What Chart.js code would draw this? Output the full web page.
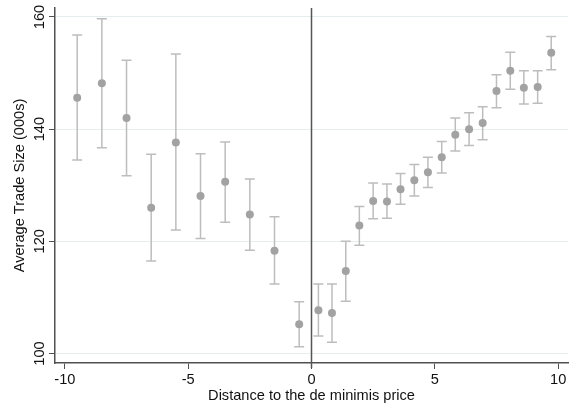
<!DOCTYPE html>
<html>
<head>
<meta charset="utf-8">
<script src="https://cdn.jsdelivr.net/npm/chart.js@4"></script>
<style>
  html, body { margin: 0; padding: 0; background: #fff; }
  #wrap { width: 573px; height: 407px; }
</style>
</head>
<body>
<div id="wrap"><canvas id="chart" width="573" height="407"></canvas></div>
<script>
// bin centres (distance to the de minimis price)
const binX = [-9.5, -8.5, -7.5, -6.5, -5.5, -4.5, -3.5, -2.5, -1.5, -0.5,
    0.28, 0.83, 1.39, 1.94, 2.5, 3.06, 3.61, 4.17, 4.72, 5.28, 5.83, 6.39, 6.94, 7.5, 8.06, 8.61, 9.17, 9.72];
// average trade size (000s)
const avgSize = [145.6, 148.2, 142.0, 126.0, 137.6, 128.1, 130.6, 124.8, 118.3, 105.2,
    107.7, 107.2, 114.7, 122.8, 127.2, 127.1, 129.3, 130.9, 132.3, 135.0, 139.0, 140.0, 141.1, 146.8, 150.4, 147.4, 147.5, 153.6];
// confidence interval bounds
const ciHigh = [156.8, 159.7, 152.3, 135.5, 153.4, 135.6, 137.7, 131.1, 124.4, 109.2,
    112.4, 112.4, 120.0, 126.2, 130.4, 130.2, 132.1, 133.7, 135.0, 137.8, 142.0, 142.9, 144.0, 149.7, 153.7, 150.4, 150.4, 156.5];
const ciLow = [134.5, 136.7, 131.7, 116.5, 122.0, 120.5, 123.4, 118.4, 112.4, 101.2,
    103.1, 102.0, 109.3, 119.3, 124.0, 124.1, 126.6, 128.1, 129.6, 132.2, 136.1, 137.1, 138.1, 143.8, 147.1, 144.5, 144.6, 150.6];

const xTicks = [-10, -5, 0, 5, 10];
const yTicks = [100, 120, 140, 160];
const yTitle = 'Average Trade Size (000s)';

const points = binX.map((x, i) => ({ x: x, y: avgSize[i], lo: ciLow[i], hi: ciHigh[i] }));

const fontFamily = "'Liberation Sans', Arial, sans-serif";
const font = { family: fontFamily, size: 14.6 };
const axisColor = '#505050';

// whiskers, zero line and the rotated y labels (centred on their ticks like Stata does)
const extras = {
    id: 'extras',
    beforeDatasetsDraw(chart) {
        const ctx = chart.ctx;
        const xs = chart.scales.x, ys = chart.scales.y;
        ctx.save();
        ctx.strokeStyle = '#bdbdbd';
        ctx.lineWidth = 1.5;
        points.forEach(p => {
            const px = xs.getPixelForValue(p.x);
            const top = ys.getPixelForValue(p.hi);
            const bot = ys.getPixelForValue(p.lo);
            ctx.beginPath();
            ctx.moveTo(px, top); ctx.lineTo(px, bot);
            ctx.moveTo(px - 5, top); ctx.lineTo(px + 5, top);
            ctx.moveTo(px - 5, bot); ctx.lineTo(px + 5, bot);
            ctx.stroke();
        });
        ctx.restore();
    },
    afterDatasetsDraw(chart) {
        const ctx = chart.ctx;
        const xs = chart.scales.x, ys = chart.scales.y;
        const px = xs.getPixelForValue(0);
        ctx.save();
        ctx.strokeStyle = '#555';
        ctx.lineWidth = 1.5;
        ctx.beginPath();
        ctx.moveTo(px, chart.chartArea.top);
        ctx.lineTo(px, chart.chartArea.bottom + 5);
        ctx.stroke();

        ctx.fillStyle = '#111';
        ctx.font = font.size + 'px ' + fontFamily;
        ctx.textAlign = 'center';
        ctx.textBaseline = 'alphabetic';
        yTicks.forEach(v => {
            ctx.save();
            ctx.translate(43.5, ys.getPixelForValue(v));
            ctx.rotate(-Math.PI / 2);
            ctx.fillText(String(v), 0, 0);
            ctx.restore();
        });
        ctx.save();
        ctx.translate(24, (chart.chartArea.top + chart.chartArea.bottom) / 2);
        ctx.rotate(-Math.PI / 2);
        ctx.fillText(yTitle, 0, 0);
        ctx.restore();
        ctx.restore();
    }
};

new Chart(document.getElementById('chart'), {
    type: 'scatter',
    data: {
        datasets: [{
            data: points,
            backgroundColor: '#a2a2a2',
            borderWidth: 0,
            pointRadius: 4
        }]
    },
    plugins: [extras],
    options: {
        responsive: false,
        animation: false,
        layout: { padding: { top: 8, right: 5, left: 0, bottom: 0 } },
        plugins: {
            legend: { display: false },
            tooltip: { enabled: false }
        },
        scales: {
            x: {
                type: 'linear',
                min: -10.4,
                max: 10.4,
                afterBuildTicks: s => { s.ticks = xTicks.map(v => ({ value: v })); },
                afterFit: s => { s.height = 44; },
                ticks: { font: font, color: '#111', padding: 2 },
                grid: { color: 'transparent', tickColor: axisColor, tickLength: 6, drawOnChartArea: false },
                border: { color: axisColor, width: 1.5 },
                title: {
                    display: true,
                    text: 'Distance to the de minimis price',
                    font: font,
                    color: '#111',
                    padding: { top: 0, bottom: 2 }
                }
            },
            y: {
                type: 'linear',
                min: 98.3,
                max: 161.6,
                afterBuildTicks: s => { s.ticks = yTicks.map(v => ({ value: v })); },
                afterFit: s => { s.width = 55; },
                ticks: { display: false },
                grid: { color: '#e4eeee', tickColor: axisColor, tickLength: 6 },
                border: { color: axisColor, width: 1.5 }
            }
        }
    }
});
</script>
</body>
</html>
